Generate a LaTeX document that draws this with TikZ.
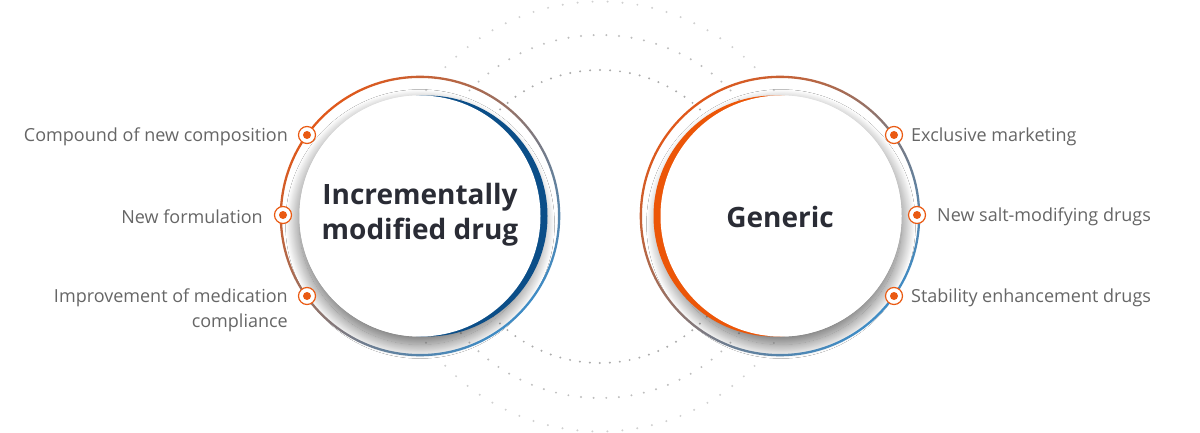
\documentclass[tikz,border=0pt]{standalone}
\usepackage{fontspec}
\setmainfont{Open Sans}
\usetikzlibrary{shadows.blur}
\definecolor{ringorange}{HTML}{E0581A}
\definecolor{ringmid}{HTML}{8C7570}
\definecolor{ringblue}{HTML}{3E8CC6}
\definecolor{crescentblue}{HTML}{0B4E88}
\definecolor{crescentorange}{HTML}{EC5608}
\definecolor{markorange}{HTML}{EA5A12}
\definecolor{labelgray}{HTML}{666666}
\definecolor{titledark}{HTML}{2A2C35}
\definecolor{dotA}{HTML}{ABABAB}
\definecolor{dotB}{HTML}{BDBDBD}
\definecolor{dotC}{HTML}{D0D0D0}
\begin{document}
\begin{tikzpicture}[x=1pt,y=-1pt]
\tikzset{
  dots/.style={line cap=round, line width=2.2pt},
  lbl/.style={font=\fontsize{18}{25.5}\selectfont, text=labelgray, inner sep=0pt},
  title/.style={font=\fontsize{28}{35}\selectfont\bfseries, text=titledark, align=center, inner sep=0pt},
  marker/.style={circle, draw=markorange, line width=1.2pt, fill=white, minimum size=17pt, inner sep=0pt},
  markdot/.style={circle, fill=markorange, minimum size=8pt, inner sep=0pt},
  disc/.style={circle, minimum size=241pt, inner sep=0pt},
  shadowdisc/.style={disc, fill=white, blur shadow={shadow xshift=0pt, shadow yshift=-8pt, shadow blur radius=14pt, shadow blur steps=40, shadow opacity=60}},
  ring/.style={even odd rule, top color=ringorange, bottom color=ringblue, middle color=ringmid, shading angle=45},
}
\useasboundingbox (0,0) rectangle (1200,433);
\fill[white] (0,0) rectangle (1200,433);

% dotted background circles
\coordinate (dc) at (600,216.5);
\draw[dots, draw=dotA, dash pattern=on 0pt off 10.004pt] (dc) circle[radius=146.5pt];
\draw[dots, draw=dotB, dash pattern=on 0pt off 12.671pt] (dc) circle[radius=181.5pt];
\draw[dots, draw=dotC, dash pattern=on 0pt off 15.010pt] (dc) circle[radius=215pt];

% left group
\coordinate (L) at (420,216);
\node[shadowdisc] (Lshadow) at (L) {};
\node[disc, fill=crescentblue] (Lcres) at (427,216) {};
\node[disc, fill=white] (Ldisc) at (L) {};
\shade[ring] (L) circle[radius=140.3pt] (L) circle[radius=138pt];
\node[title] (Ltitle) at (420,215) {Incrementally\\modified drug};

% right group
\coordinate (R) at (780,216);
\node[shadowdisc] (Rshadow) at (781,216) {};
\node[disc, fill=crescentorange] (Rcres) at (774,216) {};
\node[disc, fill=white] (Rdisc) at (781,216) {};
\shade[ring] (R) circle[radius=140.3pt] (R) circle[radius=138pt];
\node[title] (Rtitle) at (780,217) {Generic};

% left markers and labels
\node[marker] (lm1) at (307,135) {}; \node[markdot] (lm1d) at (lm1) {};
\node[marker] (lm2) at (283,215) {}; \node[markdot] (lm2d) at (lm2) {};
\node[marker] (lm3) at (307,296) {}; \node[markdot] (lm3d) at (lm3) {};
\node[lbl, anchor=east] (lt1) at (288,137) {Compound of new composition};
\node[lbl, anchor=east] (lt2) at (263,217) {New formulation};
\node[lbl, anchor=north east, align=right] (lt3) at (288,288.5) {Improvement of medication\\compliance};

% right markers and labels
\node[marker] (rm1) at (894,135) {}; \node[markdot] (rm1d) at (rm1) {};
\node[marker] (rm2) at (917,215) {}; \node[markdot] (rm2d) at (rm2) {};
\node[marker] (rm3) at (894,296) {}; \node[markdot] (rm3d) at (rm3) {};
\node[lbl, anchor=west] (rt1) at (911,137) {Exclusive marketing};
\node[lbl, anchor=west] (rt2) at (937,217) {New salt-modifying drugs};
\node[lbl, anchor=west] (rt3) at (911,298) {Stability enhancement drugs};
\end{tikzpicture}
\end{document}
